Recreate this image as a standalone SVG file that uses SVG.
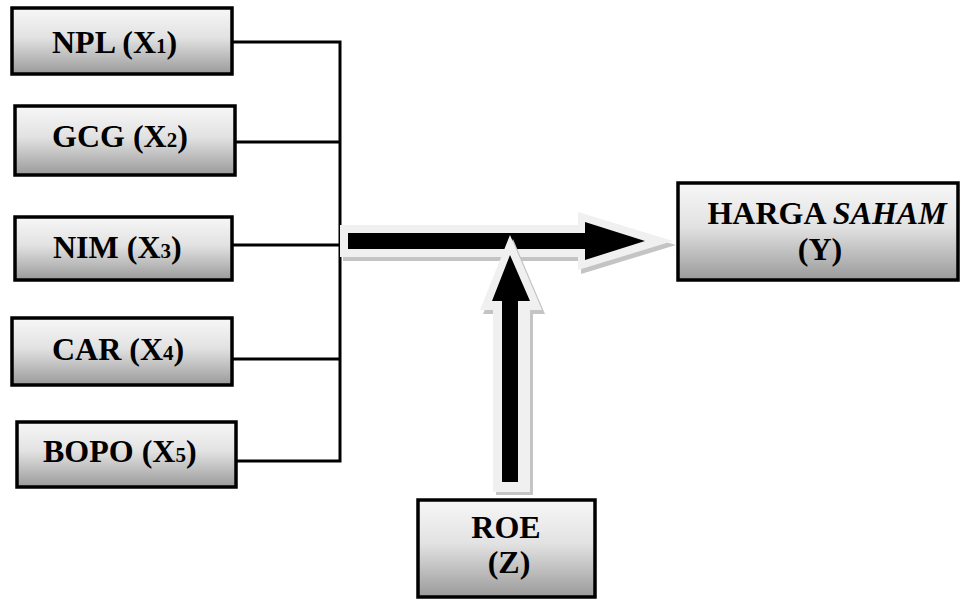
<svg xmlns="http://www.w3.org/2000/svg" width="961" height="599" viewBox="0 0 961 599">
<defs>
<linearGradient id="g" x1="0" y1="0" x2="0" y2="1">
<stop offset="0" stop-color="#f7f7f7"/>
<stop offset="0.45" stop-color="#e2e2e2"/>
<stop offset="1" stop-color="#9a9a9a"/>
</linearGradient>
</defs>
<style>
.box{fill:url(#g);stroke:#000;stroke-width:3.5}
.t{font-weight:bold;font-size:32px;fill:#000}
.s{font-size:21px}
.ln{stroke:#000;stroke-width:3;fill:none}
.sh{fill:#c4c4c4}
.ol{fill:#f0f0f0}
</style>
<rect width="961" height="599" fill="#fff"/>
<g id="connectors">
<polyline class="ln" points="232,42 340,42 340,461 236,461"/>
<line class="ln" x1="235" y1="142" x2="340" y2="142"/>
<line class="ln" x1="232" y1="245" x2="340" y2="245"/>
<line class="ln" x1="232" y1="359" x2="340" y2="359"/>
<g id="arrow-main">
<polygon class="sh" points="343,229 581,229 581,216 676,245 581,274 581,261 343,261"/>
<polygon class="ol" points="340,225 578,225 578,212 673,241 578,270 578,257 340,257"/>
<polygon fill="#000" points="348,233 585,233 585,222 645,241 585,260 585,249 348,249"/>
</g>
<g id="arrow-roe">
<polygon class="sh" points="513,239 545,314 533,314 533,495 496,495 496,314 483,314"/>
<polygon class="ol" points="510,235 542,310 530,310 530,492 493,492 493,310 480,310"/>
<polygon fill="#000" points="510,255 530,301 518,301 518,482 502,482 502,301 492,301"/>
</g>
</g>
<g id="npl"><rect class="box" x="12" y="8" width="220" height="66"/><text class="t" font-family="Liberation Serif, serif" x="52" y="53">NPL (X<tspan class="s">1</tspan>)</text></g>
<g id="gcg"><rect class="box" x="15" y="106" width="220" height="69"/><text class="t" font-family="Liberation Serif, serif" x="52" y="147">GCG (X<tspan class="s">2</tspan>)</text></g>
<g id="nim"><rect class="box" x="15" y="217" width="217" height="63"/><text class="t" font-family="Liberation Serif, serif" x="53" y="258">NIM (X<tspan class="s">3</tspan>)</text></g>
<g id="car"><rect class="box" x="12" y="318" width="220" height="67"/><text class="t" font-family="Liberation Serif, serif" x="52" y="360">CAR (X<tspan class="s">4</tspan>)</text></g>
<g id="bopo"><rect class="box" x="17" y="422" width="219" height="65"/><text class="t" font-family="Liberation Serif, serif" x="43" y="462">BOPO (X<tspan class="s">5</tspan>)</text></g>
<g id="harga"><rect class="box" x="678" y="183" width="280" height="97"/><text class="t" font-family="Liberation Serif, serif" font-size="30" x="827" y="224" text-anchor="middle">HARGA <tspan font-style="italic">SAHAM</tspan></text><text class="t" font-family="Liberation Serif, serif" font-size="30" x="820" y="260" text-anchor="middle">(Y)</text></g>
<g id="roe"><rect class="box" x="418" y="500" width="177" height="97"/><text class="t" font-family="Liberation Serif, serif" x="506" y="538" text-anchor="middle">ROE</text><text class="t" font-family="Liberation Serif, serif" x="509" y="573" text-anchor="middle">(Z)</text></g>
</svg>
